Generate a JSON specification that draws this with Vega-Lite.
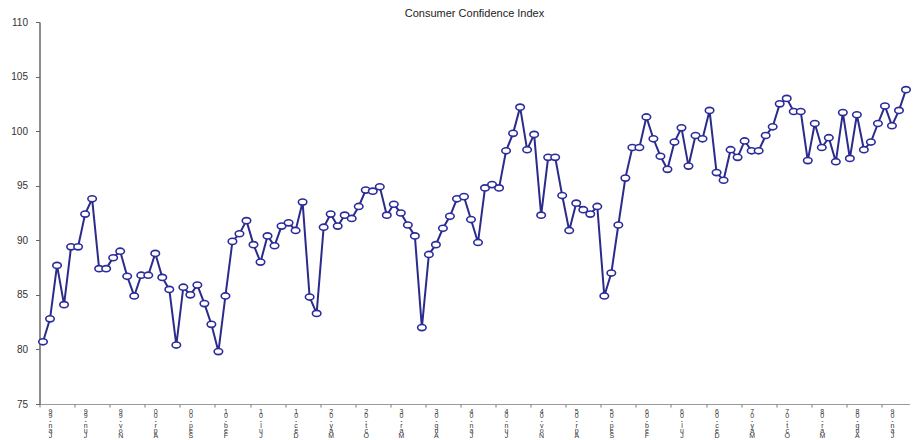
{
  "$schema": "https://vega.github.io/schema/vega-lite/v6.json",
  "width": 870,
  "height": 382,
  "autosize": "none",
  "padding": {"left": 39.5, "top": 22, "right": 8.5, "bottom": 36},
  "background": "white",
  "title": {
    "text": "Consumer Confidence Index",
    "font": "Liberation Sans",
    "fontSize": 11,
    "fontWeight": "normal",
    "color": "#222222",
    "anchor": "middle",
    "offset": -2
  },
  "data": {
    "values": [
      {"month": "Dec-98", "cci": 80.7}, {"month": "Jan-99", "cci": 82.8}, {"month": "Feb-99", "cci": 87.7},
      {"month": "Mar-99", "cci": 84.1}, {"month": "Apr-99", "cci": 89.4}, {"month": "May-99", "cci": 89.4},
      {"month": "Jun-99", "cci": 92.4}, {"month": "Jul-99", "cci": 93.8}, {"month": "Aug-99", "cci": 87.4},
      {"month": "Sep-99", "cci": 87.4}, {"month": "Oct-99", "cci": 88.4}, {"month": "Nov-99", "cci": 89.0},
      {"month": "Dec-99", "cci": 86.7}, {"month": "Jan-00", "cci": 84.9}, {"month": "Feb-00", "cci": 86.8},
      {"month": "Mar-00", "cci": 86.8}, {"month": "Apr-00", "cci": 88.8}, {"month": "May-00", "cci": 86.6},
      {"month": "Jun-00", "cci": 85.5}, {"month": "Jul-00", "cci": 80.4}, {"month": "Aug-00", "cci": 85.7},
      {"month": "Sep-00", "cci": 85.0}, {"month": "Oct-00", "cci": 85.9}, {"month": "Nov-00", "cci": 84.2},
      {"month": "Dec-00", "cci": 82.3}, {"month": "Jan-01", "cci": 79.8}, {"month": "Feb-01", "cci": 84.9},
      {"month": "Mar-01", "cci": 89.9}, {"month": "Apr-01", "cci": 90.6}, {"month": "May-01", "cci": 91.8},
      {"month": "Jun-01", "cci": 89.6}, {"month": "Jul-01", "cci": 88.0}, {"month": "Aug-01", "cci": 90.4},
      {"month": "Sep-01", "cci": 89.5}, {"month": "Oct-01", "cci": 91.3}, {"month": "Nov-01", "cci": 91.6},
      {"month": "Dec-01", "cci": 90.9}, {"month": "Jan-02", "cci": 93.5}, {"month": "Feb-02", "cci": 84.8},
      {"month": "Mar-02", "cci": 83.3}, {"month": "Apr-02", "cci": 91.2}, {"month": "May-02", "cci": 92.4},
      {"month": "Jun-02", "cci": 91.3}, {"month": "Jul-02", "cci": 92.3}, {"month": "Aug-02", "cci": 92.0},
      {"month": "Sep-02", "cci": 93.1}, {"month": "Oct-02", "cci": 94.6}, {"month": "Nov-02", "cci": 94.5},
      {"month": "Dec-02", "cci": 94.9}, {"month": "Jan-03", "cci": 92.3}, {"month": "Feb-03", "cci": 93.3},
      {"month": "Mar-03", "cci": 92.5}, {"month": "Apr-03", "cci": 91.4}, {"month": "May-03", "cci": 90.4},
      {"month": "Jun-03", "cci": 82.0}, {"month": "Jul-03", "cci": 88.7}, {"month": "Aug-03", "cci": 89.6},
      {"month": "Sep-03", "cci": 91.1}, {"month": "Oct-03", "cci": 92.2}, {"month": "Nov-03", "cci": 93.8},
      {"month": "Dec-03", "cci": 94.0}, {"month": "Jan-04", "cci": 91.9}, {"month": "Feb-04", "cci": 89.8},
      {"month": "Mar-04", "cci": 94.8}, {"month": "Apr-04", "cci": 95.1}, {"month": "May-04", "cci": 94.8},
      {"month": "Jun-04", "cci": 98.2}, {"month": "Jul-04", "cci": 99.8}, {"month": "Aug-04", "cci": 102.2},
      {"month": "Sep-04", "cci": 98.3}, {"month": "Oct-04", "cci": 99.7}, {"month": "Nov-04", "cci": 92.3},
      {"month": "Dec-04", "cci": 97.6}, {"month": "Jan-05", "cci": 97.6}, {"month": "Feb-05", "cci": 94.1},
      {"month": "Mar-05", "cci": 90.9}, {"month": "Apr-05", "cci": 93.4}, {"month": "May-05", "cci": 92.8},
      {"month": "Jun-05", "cci": 92.4}, {"month": "Jul-05", "cci": 93.1}, {"month": "Aug-05", "cci": 84.9},
      {"month": "Sep-05", "cci": 87.0}, {"month": "Oct-05", "cci": 91.4}, {"month": "Nov-05", "cci": 95.7},
      {"month": "Dec-05", "cci": 98.5}, {"month": "Jan-06", "cci": 98.5}, {"month": "Feb-06", "cci": 101.3},
      {"month": "Mar-06", "cci": 99.3}, {"month": "Apr-06", "cci": 97.7}, {"month": "May-06", "cci": 96.5},
      {"month": "Jun-06", "cci": 99.0}, {"month": "Jul-06", "cci": 100.3}, {"month": "Aug-06", "cci": 96.8},
      {"month": "Sep-06", "cci": 99.6}, {"month": "Oct-06", "cci": 99.3}, {"month": "Nov-06", "cci": 101.9},
      {"month": "Dec-06", "cci": 96.2}, {"month": "Jan-07", "cci": 95.5}, {"month": "Feb-07", "cci": 98.3},
      {"month": "Mar-07", "cci": 97.6}, {"month": "Apr-07", "cci": 99.1}, {"month": "May-07", "cci": 98.2},
      {"month": "Jun-07", "cci": 98.2}, {"month": "Jul-07", "cci": 99.6}, {"month": "Aug-07", "cci": 100.4},
      {"month": "Sep-07", "cci": 102.5}, {"month": "Oct-07", "cci": 103.0}, {"month": "Nov-07", "cci": 101.8},
      {"month": "Dec-07", "cci": 101.8}, {"month": "Jan-08", "cci": 97.3}, {"month": "Feb-08", "cci": 100.7},
      {"month": "Mar-08", "cci": 98.5}, {"month": "Apr-08", "cci": 99.4}, {"month": "May-08", "cci": 97.2},
      {"month": "Jun-08", "cci": 101.7}, {"month": "Jul-08", "cci": 97.5}, {"month": "Aug-08", "cci": 101.5},
      {"month": "Sep-08", "cci": 98.3}, {"month": "Oct-08", "cci": 99.0}, {"month": "Nov-08", "cci": 100.7},
      {"month": "Dec-08", "cci": 102.3}, {"month": "Jan-09", "cci": 100.5}, {"month": "Feb-09", "cci": 101.9},
      {"month": "Mar-09", "cci": 103.8}
    ]
  },
  "encoding": {
    "x": {
      "field": "month",
      "type": "ordinal",
      "sort": null,
      "scale": {"type": "point", "padding": 0.5},
      "axis": {
        "title": null,
        "values": ["Jan-99", "Jun-99", "Nov-99", "Apr-00", "Sep-00", "Feb-01", "Jul-01", "Dec-01", "May-02", "Oct-02", "Mar-03", "Aug-03", "Jan-04", "Jun-04", "Nov-04", "Apr-05", "Sep-05", "Feb-06", "Jul-06", "Dec-06", "May-07", "Oct-07", "Mar-08", "Aug-08", "Jan-09"],
        "labelExpr": "reverse(split(datum.label, ''))",
        "labelAngle": 0,
        "labelFont": "Liberation Sans",
        "labelFontSize": 7,
        "labelLineHeight": 4.8,
        "labelBaseline": "top",
        "labelAlign": "center",
        "labelColor": "#333333",
        "labelOverlap": false,
        "labelBound": false,
        "labelPadding": 0,
        "tickOffset": -10.5,
        "labelOffset": 10.5,
        "tickSize": 3,
        "tickColor": "#777777",
        "domainColor": "#999999",
        "domainWidth": 1,
        "grid": false
      }
    },
    "y": {
      "field": "cci",
      "type": "quantitative",
      "scale": {"domain": [75, 110], "zero": false, "nice": false},
      "axis": {
        "title": null,
        "values": [75, 80, 85, 90, 95, 100, 105, 110],
        "labelFont": "Liberation Sans",
        "labelFontSize": 10,
        "labelColor": "#333333",
        "labelPadding": 8,
        "tickSize": 4,
        "tickColor": "#666666",
        "domainColor": "#666666",
        "domainWidth": 1.5,
        "grid": false
      }
    }
  },
  "layer": [
    {
      "mark": {"type": "line", "color": "#2b2b8c", "strokeWidth": 2}
    },
    {
      "mark": {
        "type": "point",
        "shape": "M -1 0 A 1 0.72 0 1 1 1 0 A 1 0.72 0 1 1 -1 0 Z",
        "size": 72,
        "filled": true,
        "fill": "white",
        "stroke": "#2b2b9a",
        "strokeWidth": 1.6,
        "opacity": 1
      }
    }
  ],
  "config": {
    "view": {"stroke": null}
  }
}
